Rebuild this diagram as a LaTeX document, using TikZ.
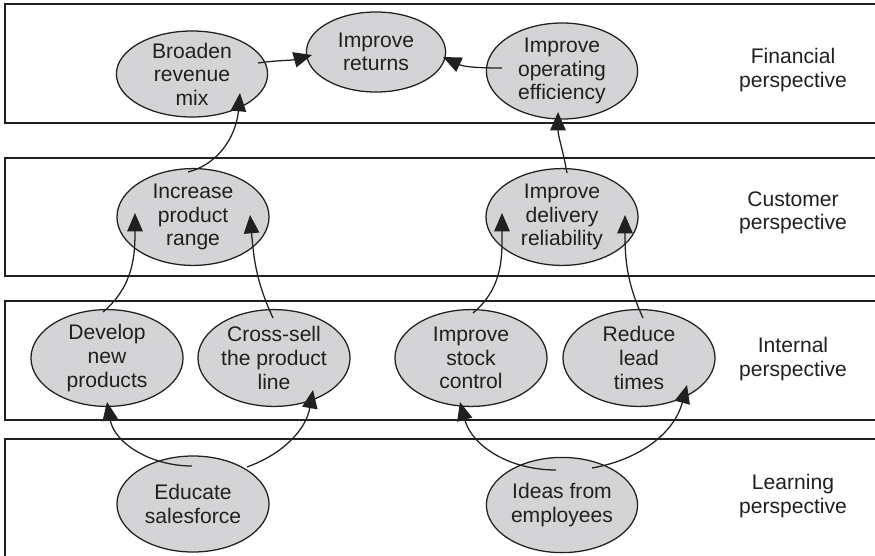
\documentclass[tikz,border=0pt]{standalone}
\usepackage{fontspec}
\setmainfont{Liberation Sans}
\usetikzlibrary{arrows.meta,calc,shapes.geometric}
\definecolor{Goal}{HTML}{D4D4D6}
\definecolor{Ink}{HTML}{202020}
\tikzset{
  band/.style={draw=Ink,line width=1.3pt},
  goal/.style={ellipse,draw=Ink,fill=Goal,line width=0.9pt,inner sep=-3.5mm,minimum width=3.8cm,minimum height=2.42cm,align=center,font=\fontsize{15}{16.8}\selectfont,text=Ink},
  tag/.style={align=center,font=\fontsize{15}{16.8}\selectfont,text=Ink},
  link/.style={-{Triangle[length=13pt,width=11pt]},draw=Ink,line width=0.9pt}
}

\begin{document}
\begin{tikzpicture}[x=0.025cm,y=-0.025cm]
  \useasboundingbox (0,0) rectangle (875,555);
  % perspective bands
  \draw[band] (5,4) rectangle (878,123);
  \draw[band] (5,158) rectangle (878,276);
  \draw[band] (5,301) rectangle (878,420);
  \draw[band] (5,439) rectangle (878,558);
  \node[tag] (fintag) at (793,70) {Financial\\perspective};
  \node[tag] (custag) at (793,213) {Customer\\perspective};
  \node[tag] (inttag) at (793,359) {Internal\\perspective};
  \node[tag] (learntag) at (793,496) {Learning\\perspective};
  % financial
  \node[goal,minimum width=3.78cm,minimum height=2.15cm] (broaden) at (192,74) {Broaden\\revenue\\mix};
  \node[goal,minimum width=3.48cm,minimum height=2cm] (returns) at (376,52) {Improve\\returns};
  \node[goal,minimum width=3.78cm,minimum height=2.4cm] (opeff) at (562,71) {Improve\\operating\\efficiency};
  % customer
  \node[goal] (range) at (193,217) {Increase\\product\\range};
  \node[goal] (deliv) at (562,217) {Improve\\delivery\\reliability};
  % internal
  \node[goal] (develop) at (107,358) {Develop\\new\\products};
  \node[goal] (crosssell) at (274,358) {Cross-sell\\the product\\line};
  \node[goal] (stock) at (471,358) {Improve\\stock\\control};
  \node[goal] (lead) at (639,358) {Reduce\\lead\\times};
  % learning
  \node[goal,minimum height=2.4cm] (educate) at (193,504) {Educate\\salesforce};
  \node[goal,minimum width=3.78cm,minimum height=2.38cm] (ideas) at (562,505) {Ideas from\\employees};
  % links
  \draw[link] ($(broaden)+(66,-11)$) to[out=8,in=195] ($(returns)+(-64,3)$);
  \draw[link] ($(opeff)+(-60,-3)$) to[out=180,in=-25] ($(returns)+(67,5)$);
  \draw[link] ($(range)+(-5,-45)$) to[out=15,in=-95] ($(broaden)+(48,19)$);
  \draw[link] ($(deliv)+(5,-44)$) to[out=100,in=-90] ($(opeff)+(-4,41)$);
  \draw[link] ($(develop)+(-4,-46)$) to[out=40,in=-90] ($(range)+(-58,-4)$);
  \draw[link] ($(crosssell)+(-1,-40)$) to[out=115,in=-85] ($(range)+(57,-2)$);
  \draw[link] ($(stock)+(2,-45)$) to[out=40,in=-90] ($(deliv)+(-60,-4)$);
  \draw[link] ($(lead)+(4,-40)$) to[out=115,in=-90] ($(deliv)+(63,-2)$);
  \draw[link] ($(educate)+(-1,-38)$) to[out=180,in=-80] ($(develop)+(0,44)$);
  \draw[link] ($(educate)+(54,-37)$) to[out=20,in=-100] ($(crosssell)+(39,32)$);
  \draw[link] ($(ideas)+(-6,-35)$) to[out=180,in=-75] ($(stock)+(-11,44)$);
  \draw[link] ($(ideas)+(30,-37)$) to[out=10,in=-105] ($(lead)+(48,27)$);
\end{tikzpicture}
\end{document}
